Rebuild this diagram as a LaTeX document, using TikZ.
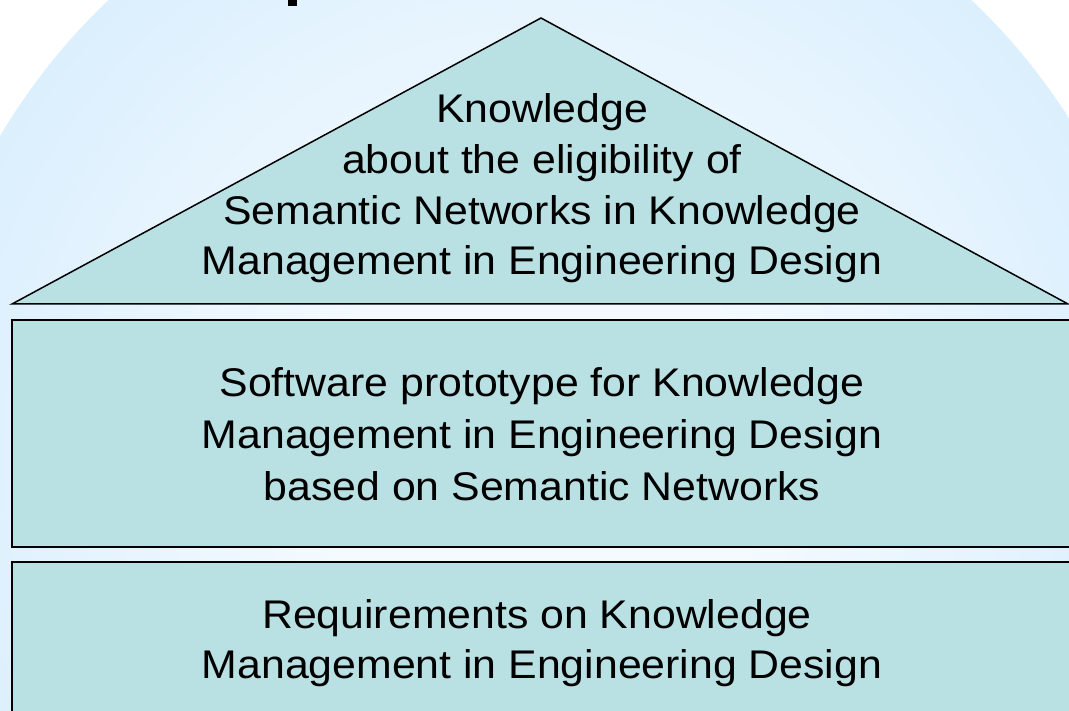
\documentclass[tikz,border=0pt]{standalone}
\usepackage{fontspec}
\setmainfont[FakeStretch=1.07]{Liberation Sans}
\definecolor{bgblue}{HTML}{C6E5FC}
\definecolor{bgmid}{HTML}{D6EDFD}
\definecolor{bgcenter}{HTML}{F4FAFF}
\definecolor{boxfill}{HTML}{B9E0E3}
\pgfdeclareradialshading{bgshade}{\pgfpoint{0bp}{0bp}}{color(0bp)=(bgcenter); color(9bp)=(bgcenter); color(28bp)=(bgmid); color(40bp)=(bgblue); color(100bp)=(bgblue)}
\tikzset{
  block/.style={fill=boxfill, draw=black, line width=1.5pt, line join=miter},
  txt/.style={anchor=base, inner sep=0pt, font=\fontsize{40}{51}\selectfont, text=black}
}
\begin{document}
\begin{tikzpicture}[x=1pt, y=-1pt]
\useasboundingbox (0,0) rectangle (1069,711);
\begin{scope}
\clip (0,0) rectangle (1069,711);
\shade[shading=bgshade] (540,455) circle (627);
% fragment of the cut-off title
\fill[black] (288,0) rectangle (297,6);
% roof
\draw[block] (12,304) -- (541,18) -- (1068,304) -- cycle;
% middle storey
\draw[block] (1075,320) -- (12,320) -- (12,547) -- (1075,547);
\fill[boxfill] (12.75,320.75) rectangle (1075,546.25);
% bottom storey
\draw[block] (1075,562) -- (12,562) -- (12,720);
\fill[boxfill] (12.75,562.75) rectangle (1075,720);
\end{scope}
% texts
\node[txt] (r1) at (542,123) {Knowledge};
\node[txt] (r2) at (542,174) {about the eligibility of};
\node[txt] (r3) at (542,225) {Semantic Networks in Knowledge};
\node[txt] (r4) at (542,275) {Management in Engineering Design};
\node[txt] (m1) at (542,397) {Software prototype for Knowledge};
\node[txt] (m2) at (542,448) {Management in Engineering Design};
\node[txt] (m3) at (542,500) {based on Semantic Networks};
\node[txt] (b1) at (537,628) {Requirements on Knowledge};
\node[txt] (b2) at (542,678) {Management in Engineering Design};
\end{tikzpicture}
\end{document}
